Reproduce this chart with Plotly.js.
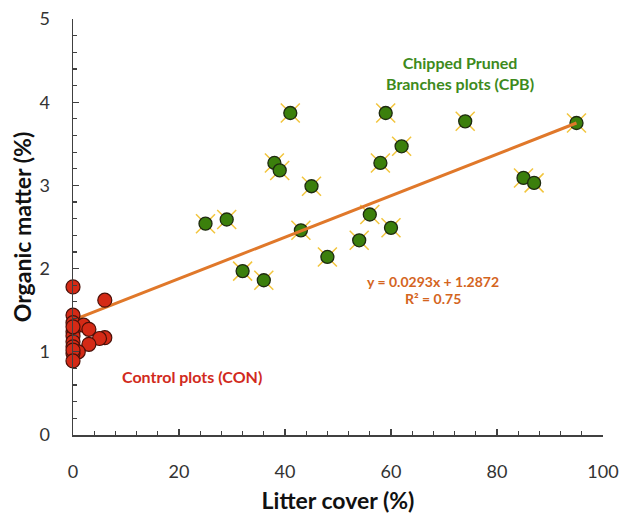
<!DOCTYPE html>
<html>
<head>
<meta charset="utf-8">
<script src="https://cdn.plot.ly/plotly-3.0.1.min.js"></script>
<style>html,body{margin:0;padding:0;background:#fff;}#chart{width:622px;height:514px;}</style>
</head>
<body>
<div id="chart"></div>
<script>
// CPB plots (litter cover %, organic matter %)
const cpbX = [41, 59, 38, 39, 45, 58, 62, 25, 29, 43, 56, 60, 54, 48, 32, 36, 74, 95, 85, 87];
const cpbY = [3.87, 3.87, 3.27, 3.18, 2.99, 3.27, 3.47, 2.54, 2.59, 2.46, 2.65, 2.49, 2.34, 2.14, 1.97, 1.86, 3.77, 3.75, 3.09, 3.03];
// CON plots
const conX = [0, 6, 0, 0, 2, 3, 0, 0, 6, 5, 0, 3, 0, 1, 0, 0, 0, 0];
const conY = [1.78, 1.62, 1.44, 1.35, 1.32, 1.27, 1.24, 1.19, 1.17, 1.16, 1.12, 1.09, 1.06, 1.0, 0.98, 1.3, 1.02, 0.89];
// trend line as drawn
const trendX = [0, 95];
const trendY = [1.38, 3.75];
const eqText = "y = 0.0293x + 1.2872";
const r2Text = "R² = 0.75";
const cpbLabel = "Chipped Pruned<br>Branches plots (CPB)";
const conLabel = "Control plots (CON)";
const xTitle = "Litter cover (%)";
const yTitle = "Organic matter (%)";

const F = "Lato, 'Open Sans', sans-serif";

const traces = [
  {x: cpbX, y: cpbY, type: 'scatter', mode: 'markers', cliponaxis: false,
   marker: {symbol: 'x-thin-open', size: 19, color: '#f2c53d', line: {color: '#f2c53d', width: 1.5}}},
  {x: cpbX, y: cpbY, type: 'scatter', mode: 'markers', cliponaxis: false,
   marker: {symbol: 'circle', size: 13, color: '#3b7f0c', line: {color: '#1e2a10', width: 1.3}}},
  {x: trendX, y: trendY, type: 'scatter', mode: 'lines', cliponaxis: false,
   line: {color: '#e0782a', width: 3}},
  {x: conX, y: conY, type: 'scatter', mode: 'markers', cliponaxis: false,
   marker: {symbol: 'circle', size: 14, color: '#d42a16', line: {color: '#4a1008', width: 1.2}}}
];

const layout = {
  width: 622, height: 514,
  margin: {l: 73, r: 19, t: 19, b: 79},
  paper_bgcolor: '#fff', plot_bgcolor: '#fff',
  showlegend: false,
  font: {family: F, color: '#333'},
  xaxis: {
    range: [0, 100], dtick: 20, tick0: 0,
    showgrid: false, zeroline: false,
    showline: true, linecolor: '#404040', linewidth: 1.5,
    ticks: 'inside', ticklen: 6, tickcolor: '#404040', tickwidth: 1.2,
    minor: {dtick: 4, ticks: 'inside', ticklen: 4, tickcolor: '#404040', tickwidth: 1.2, showgrid: false},
    tickfont: {size: 18, family: F, color: '#333'},
    ticklabelstandoff: 20,
    title: {text: '<b>' + xTitle + '</b>', font: {size: 23, family: F, color: '#111'}, standoff: 17}
  },
  yaxis: {
    range: [0, 5], dtick: 1, tick0: 0,
    showgrid: false, zeroline: false,
    showline: true, linecolor: '#404040', linewidth: 1.5,
    ticks: 'inside', ticklen: 6, tickcolor: '#404040', tickwidth: 1.2,
    minor: {dtick: 0.2, ticks: 'inside', ticklen: 4, tickcolor: '#404040', tickwidth: 1.2, showgrid: false},
    tickfont: {size: 18, family: F, color: '#333'},
    ticklabelstandoff: 18,
    title: {text: '<b>' + yTitle + '</b>', font: {size: 23, family: F, color: '#111'}, standoff: 1}
  },
  annotations: [
    {x: 73, y: 4.35, xref: 'x', yref: 'y', text: '<b>' + cpbLabel + '</b>', showarrow: false,
     font: {size: 16, family: F, color: '#3d8a1c'}, align: 'center'},
    {x: 22.5, y: 0.7, xref: 'x', yref: 'y', text: '<b>' + conLabel + '</b>', showarrow: false,
     font: {size: 16, family: F, color: '#d12a20'}, align: 'center'},
    {x: 68, y: 1.85, xref: 'x', yref: 'y', text: '<b>' + eqText + '</b>', showarrow: false,
     font: {size: 14, family: F, color: '#d4651e'}, align: 'center'},
    {x: 68, y: 1.64, xref: 'x', yref: 'y', text: '<b>' + r2Text + '</b>', showarrow: false,
     font: {size: 14, family: F, color: '#d4651e'}, align: 'center'}
  ]
};

Plotly.newPlot('chart', traces, layout, {displayModeBar: false, staticPlot: true});
</script>
</body>
</html>
